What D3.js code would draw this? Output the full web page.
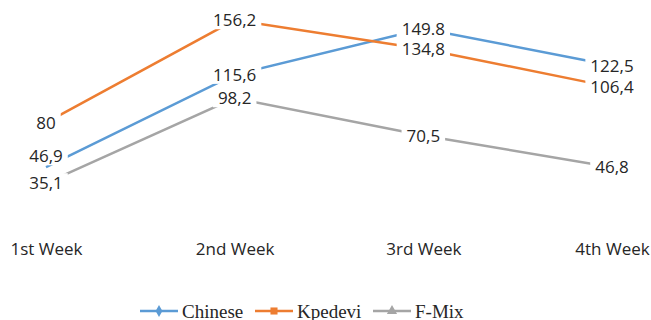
<!DOCTYPE html>
<html>
<head>
<meta charset="utf-8">
<script src="https://cdn.jsdelivr.net/npm/d3@7"></script>
<style>
  body { margin: 0; background: #fff; }
  svg { display: block; }
</style>
</head>
<body>
<div id="chart"></div>
<script>
// data
var weeks = ["1st Week", "2nd Week", "3rd Week", "4th Week"];
var seriesNames = ["Chinese", "Kpedevi", "F-Mix"];
var seriesColors = ["#5B9BD5", "#ED7D31", "#A5A5A5"];
var chinese = [46.9, 115.6, 149.8, 122.5];
var kpedevi = [80, 156.2, 134.8, 106.4];
var fmix = [35.1, 98.2, 70.5, 46.8];
// labels as printed (one uses a dot)
var chineseLabels = ["46,9", "115,6", "149.8", "122,5"];
var kpedeviLabels = ["80", "156,2", "134,8", "106,4"];
var fmixLabels = ["35,1", "98,2", "70,5", "46,8"];

var width = 651, height = 320;

var svg = d3.select("#chart").append("svg")
  .attr("width", width)
  .attr("height", height);

var x = d3.scalePoint()
  .domain(weeks)
  .range([46, 612]);

var y = d3.scaleLinear()
  .domain([0, 160])
  .range([230.3, 15]);

var series = [
  {name: seriesNames[0], color: seriesColors[0], values: chinese, labels: chineseLabels},
  {name: seriesNames[1], color: seriesColors[1], values: kpedevi, labels: kpedeviLabels},
  {name: seriesNames[2], color: seriesColors[2], values: fmix, labels: fmixLabels}
];

var line = d3.line()
  .x(function(d, i) { return x(weeks[i]); })
  .y(function(d) { return y(d); });

// lines
svg.selectAll(".series")
  .data(series)
  .enter().append("path")
  .attr("class", "series")
  .attr("d", function(s) { return line(s.values); })
  .attr("fill", "none")
  .attr("stroke", function(s) { return s.color; })
  .attr("stroke-width", 2.5);

// data labels, centred on the points with white boxes
var labelFont = "'Open Sans', sans-serif";
series.forEach(function(s, si) {
  s.values.forEach(function(v, i) {
    // the first Chinese label was nudged up in the original so it clears 35,1
    var shift = (si == 0 && i == 0) ? -11 : 0;
    var g = svg.append("g")
      .attr("transform", "translate(" + x(weeks[i]) + "," + (y(v) + shift) + ")");
    var t = g.append("text")
      .attr("text-anchor", "middle")
      .attr("dy", "0.36em")
      .style("font-family", labelFont)
      .style("font-size", "17px")
      .attr("fill", "#262626")
      .text(s.labels[i]);
    var bb = t.node().getBBox();
    g.insert("rect", "text")
      .attr("x", bb.x - 5)
      .attr("y", bb.y + 2)
      .attr("width", bb.width + 10)
      .attr("height", bb.height - 4)
      .attr("fill", "#fff");
  });
});

// category axis labels (no axis line)
var xAxis = d3.axisBottom(x).tickSize(0).tickPadding(0);
var axisG = svg.append("g")
  .attr("transform", "translate(0,243)")
  .call(xAxis);
axisG.select(".domain").remove();
axisG.selectAll("text")
  .style("font-family", labelFont)
  .style("font-size", "17px")
  .attr("fill", "#262626");

// legend
var legendX = [140, 255, 373];
var legend = svg.selectAll(".legend")
  .data(series)
  .enter().append("g")
  .attr("class", "legend")
  .attr("transform", function(s, i) { return "translate(" + legendX[i] + ",311)"; });

legend.append("line")
  .attr("x1", 0).attr("x2", 38)
  .attr("stroke", function(s) { return s.color; })
  .attr("stroke-width", 2.5);

legend.append("path")
  .attr("transform", "translate(19,0)")
  .attr("d", function(s, i) {
    var types = [d3.symbolDiamond, d3.symbolSquare, d3.symbolTriangle];
    var sizes = [40, 50, 45];
    return d3.symbol().type(types[i]).size(sizes[i])();
  })
  .attr("fill", function(s) { return s.color; });

legend.append("text")
  .attr("x", 42)
  .attr("y", 7)
  .style("font-family", "'Liberation Serif', 'Times New Roman', serif")
  .style("font-size", "19px")
  .attr("fill", "#262626")
  .text(function(s) { return s.name; });
</script>
</body>
</html>
